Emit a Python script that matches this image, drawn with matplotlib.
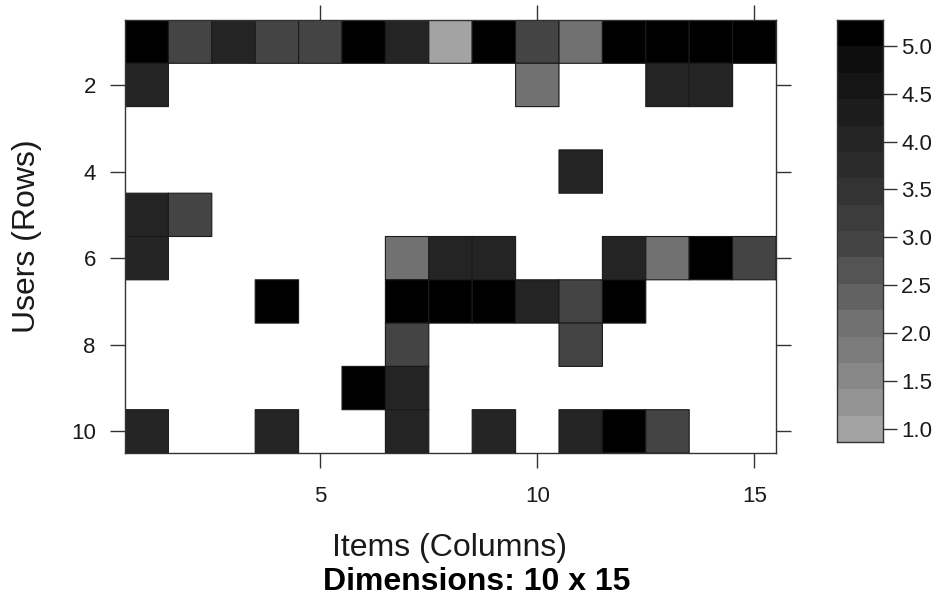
import numpy as np
import matplotlib
matplotlib.use("Agg")
import matplotlib.pyplot as plt
from matplotlib.colors import ListedColormap, BoundaryNorm

plt.rcParams['font.family'] = ['Liberation Sans', 'DejaVu Sans']

# rating matrix stored as (user, item, rating) triplets, 1-based indices
n_users = 10
n_items = 15
user_idx = [1, 1, 1, 1, 1, 1, 1, 1, 1, 1, 1, 1, 1, 1, 1,
            2, 2, 2, 2,
            4,
            5, 5,
            6, 6, 6, 6, 6, 6, 6, 6,
            7, 7, 7, 7, 7, 7, 7,
            8, 8,
            9, 9,
            10, 10, 10, 10, 10, 10, 10]
item_idx = [1, 2, 3, 4, 5, 6, 7, 8, 9, 10, 11, 12, 13, 14, 15,
            1, 10, 13, 14,
            11,
            1, 2,
            1, 7, 8, 9, 12, 13, 14, 15,
            4, 7, 8, 9, 10, 11, 12,
            7, 11,
            6, 7,
            1, 4, 7, 9, 11, 12, 13]
ratings = [5, 3, 4, 3, 3, 5, 4, 1, 5, 3, 2, 5, 5, 5, 5,
           4, 2, 4, 4,
           4,
           4, 3,
           4, 2, 4, 4, 4, 2, 5, 3,
           5, 5, 5, 5, 4, 3, 5,
           3, 3,
           5, 4,
           4, 4, 4, 4, 4, 5, 3]

x_ticks = [5, 10, 15]
y_ticks = [2, 4, 6, 8, 10]
key_ticks = [1.0, 1.5, 2.0, 2.5, 3.0, 3.5, 4.0, 4.5, 5.0]

mat = np.full((n_users, n_items), np.nan)
for u, i, r in zip(user_idx, item_idx, ratings):
    mat[u - 1, i - 1] = r
mat = np.ma.masked_invalid(mat)

# 16 gray levels, light (low) to black (high)
grays = ['#a3a3a3', '#949494', '#888888', '#7c7c7c', '#717171', '#626262',
         '#545454', '#444444', '#3c3c3c', '#333333', '#2b2b2b', '#242424',
         '#1c1c1c', '#151515', '#0e0e0e', '#000000']
cmap = ListedColormap(grays)
bounds = np.linspace(0.86, 5.27, len(grays) + 1)
norm = BoundaryNorm(bounds, cmap.N)

fig = plt.figure(figsize=(9.44, 6.08), dpi=100)
ax = fig.add_axes([125 / 944, 1 - 453 / 608, 651 / 944, 433 / 608])

ax.pcolor(np.arange(0.5, n_items + 1), np.arange(0.5, n_users + 1), mat,
          cmap=cmap, norm=norm, edgecolors='#1a1a1a', linewidth=0.8)
ax.set_xlim(0.5, n_items + 0.5)
ax.set_ylim(n_users + 0.5, 0.5)
ax.set_xticks(x_ticks)
ax.set_yticks(y_ticks)
ax.tick_params(direction='out', length=11, width=1, color='#333333',
               top=True, right=True, labeltop=False, labelright=False,
               labelsize=16, labelcolor='#1a1a1a')
ax.tick_params(axis='y', pad=10)
ax.tick_params(axis='x', pad=13)
for s in ax.spines.values():
    s.set_color('#333333')
    s.set_linewidth(1)

# color key: one band per level, drawn on its own axes
cax = fig.add_axes([837 / 944, 1 - 442 / 608, 46 / 944, 422 / 608])
mids = (bounds[:-1] + bounds[1:]) / 2
cax.pcolormesh([0, 1], bounds, mids.reshape(-1, 1), cmap=cmap, norm=norm)
cax.set_xlim(0, 1)
cax.set_ylim(bounds[0], bounds[-1])
cax.set_xticks([])
cax.yaxis.tick_right()
cax.set_yticks(key_ticks)
cax.set_yticklabels([f'{t:.1f}' for t in key_ticks])
cax.tick_params(axis='y', direction='out', length=10, width=1, color='#333333',
                labelsize=16, labelcolor='#1a1a1a', pad=3)
for s in cax.spines.values():
    s.set_color('#333333')
    s.set_linewidth(1)

fig.text(450 / 944, 1 - 548 / 608, 'Items (Columns)', ha='center', va='center',
         fontsize=23, color='#1a1a1a')
fig.text(477 / 944, 1 - 582 / 608, 'Dimensions: 10 x 15', ha='center', va='center',
         fontsize=23, fontweight='bold', color='#000000')
fig.text(27 / 944, 1 - 236 / 608, 'Users (Rows)', ha='center', va='center',
         rotation=90, fontsize=23, color='#1a1a1a')

fig.savefig('out.png', dpi=100)
